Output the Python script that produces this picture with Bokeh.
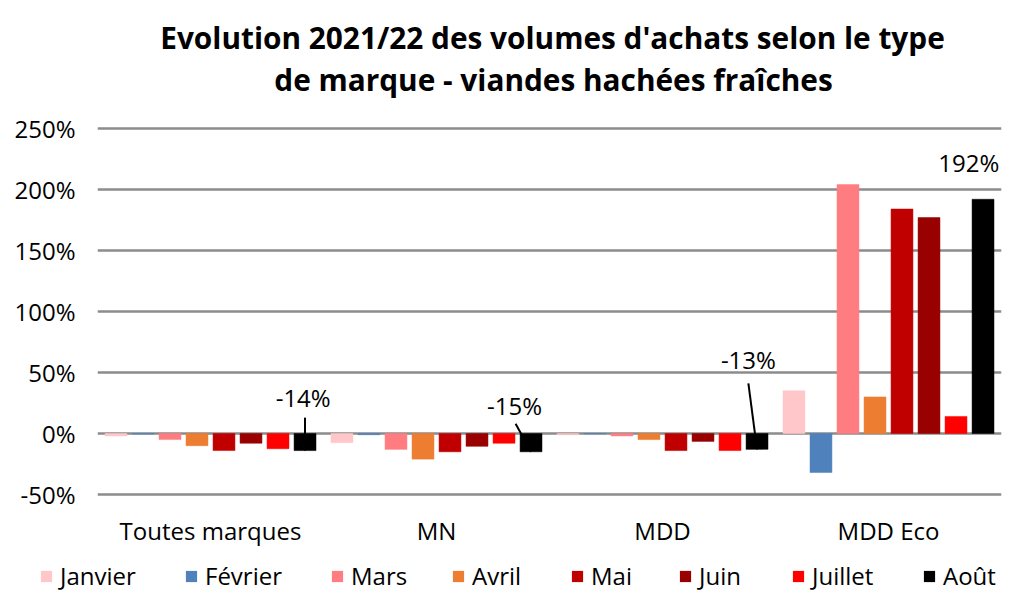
from bokeh.plotting import figure
from bokeh.layouts import column
from bokeh.models import ColumnDataSource, Range1d, FixedTicker, PrintfTickFormatter, Legend, LegendItem
from bokeh.transform import dodge
from bokeh.embed import file_html
from bokeh.resources import INLINE

# ---- data ----
categories = ["Toutes marques", "MN", "MDD", "MDD Eco"]
months = ["Janvier", "Février", "Mars", "Avril", "Mai", "Juin", "Juillet", "Août"]
janvier = [-2, -7.5, -1, 35]
fevrier = [-0.5, -1, -0.3, -32]
mars = [-5, -13, -2, 204]
avril = [-10, -21, -5, 30]
mai = [-14, -15, -14, 184]
juin = [-8, -10.5, -6.5, 177]
juillet = [-12.5, -8, -14, 14]
aout = [-14, -15, -13, 192]
y_ticks = [-50, 0, 50, 100, 150, 200, 250]
title_lines = ["Evolution 2021/22 des volumes d'achats selon le type",
               "de marque - viandes hachées fraîches"]

series = [janvier, fevrier, mars, avril, mai, juin, juillet, aout]
colors = ["#FFC7C9", "#4F81BD", "#FF7C80", "#ED7D31", "#C00000", "#990000", "#FF0000", "#000000"]

FONT = "Open Sans"
W = 1018

# ---------------- title strip ----------------
pt = figure(frame_width=W, frame_height=100, x_range=Range1d(0, W), y_range=Range1d(100, 0),
            output_backend="svg", toolbar_location=None, frame_align=False,
            min_border_left=0, min_border_right=0, min_border_top=0, min_border_bottom=0)
pt.axis.visible = False
pt.grid.grid_line_color = None
pt.outline_line_color = None
tsrc = ColumnDataSource(dict(x=[552, 553], y=[37, 79], t=title_lines))
pt.text(x="x", y="y", text="t", source=tsrc, text_align="center", text_baseline="alphabetic",
        text_font_size="29.8px", text_font={"value": FONT}, text_font_style="bold",
        text_color="black")

# ---------------- main chart ----------------
src = ColumnDataSource(dict(cat=categories, **{m: s for m, s in zip(months, series)}))

# 1.22 px per percent point; small headroom above 250% so the top gridline shows
p = figure(x_range=categories, y_range=Range1d(-100, 253.28), width=W, height=455,
           output_backend="svg", toolbar_location=None, frame_align=False,
           min_border_left=97, min_border_right=17, min_border_top=24, min_border_bottom=0)
p.outline_line_color = None

pitch = 0.1195
bar_w = 0.097
for i, (m, c) in enumerate(zip(months, colors)):
    off = (i - 3.5) * pitch
    p.vbar(x=dodge("cat", off, range=p.x_range), top=m, bottom=0, width=bar_w,
           source=src, fill_color=c, line_color=c, line_width=0.5)

# data labels for Août with leader lines
aout_off = 3.5 * pitch
label_x_off = [0.41, 0.345, 0.38, 0.355]
label_y = [29.5, 23, 60.5, 222]
leader_start_x = [aout_off, 0.35, 0.38, None]
leader_start_y = [13, 8, 41, None]
for k, cat in enumerate(categories):
    lsrc = ColumnDataSource(dict(cat=[cat], txt=["%d%%" % round(aout[k])], y=[label_y[k]],
                                 y0=[leader_start_y[k] if leader_start_y[k] is not None else 0],
                                 y1=[aout[k]]))
    p.text(x=dodge("cat", label_x_off[k], range=p.x_range), y="y", text="txt", source=lsrc,
           text_align="center", text_baseline="middle", text_font_size="24px",
           text_font={"value": FONT}, text_color="black")
    if leader_start_x[k] is not None:
        p.segment(x0=dodge("cat", leader_start_x[k], range=p.x_range), y0="y0",
                  x1=dodge("cat", aout_off, range=p.x_range), y1="y1", source=lsrc,
                  line_color="black", line_width=2)

# category labels drawn through the categorical scale
p.text(x="cat", y=-79.5, text="cat", source=src, text_align="center", text_baseline="middle",
       text_font_size="24px", text_font={"value": FONT}, text_color="black")

p.yaxis.ticker = FixedTicker(ticks=y_ticks)
p.yaxis.formatter = PrintfTickFormatter(format="%d%%")
p.yaxis.axis_line_color = None
p.yaxis.major_tick_line_color = None
p.yaxis.minor_tick_line_color = None
p.yaxis.major_tick_out = 0
p.yaxis.major_label_standoff = 22
p.yaxis.major_label_text_font = FONT
p.yaxis.major_label_text_font_size = "24px"
p.yaxis.major_label_text_color = "black"
p.xaxis.visible = False

p.xgrid.grid_line_color = None
p.ygrid.grid_line_color = "#8c8c8c"
p.ygrid.grid_line_width = 2.5
p.ygrid.ticker = FixedTicker(ticks=y_ticks)

# ---------------- legend strip ----------------
pl = figure(frame_width=W, frame_height=36, x_range=Range1d(0, 1), y_range=Range1d(0, 1),
            output_backend="svg", toolbar_location=None, frame_align=False,
            min_border_left=0, min_border_right=0, min_border_top=0, min_border_bottom=0)
pl.axis.visible = False
pl.grid.grid_line_color = None
pl.outline_line_color = None
legend_x = [39, 184, 330, 451, 570, 678, 791, 922]
for m, c, lx in zip(months, colors, legend_x):
    # zero-height proxy bar that only serves the legend swatch
    r = pl.vbar(x=[0.5], top=[0], bottom=[0], width=0.0, fill_color=c, line_color=None)
    pl.add_layout(Legend(items=[LegendItem(label=m, renderers=[r])], location=(lx, -1),
                         orientation="horizontal", glyph_width=14, glyph_height=14,
                         label_standoff=7, spacing=0, padding=0, margin=0,
                         border_line_color=None, background_fill_alpha=0,
                         label_text_font=FONT, label_text_font_size="24px",
                         label_text_color="black"), "center")

layout = column(pt, p, pl, spacing=0)
open("out.html", "w").write(file_html(layout, INLINE))
